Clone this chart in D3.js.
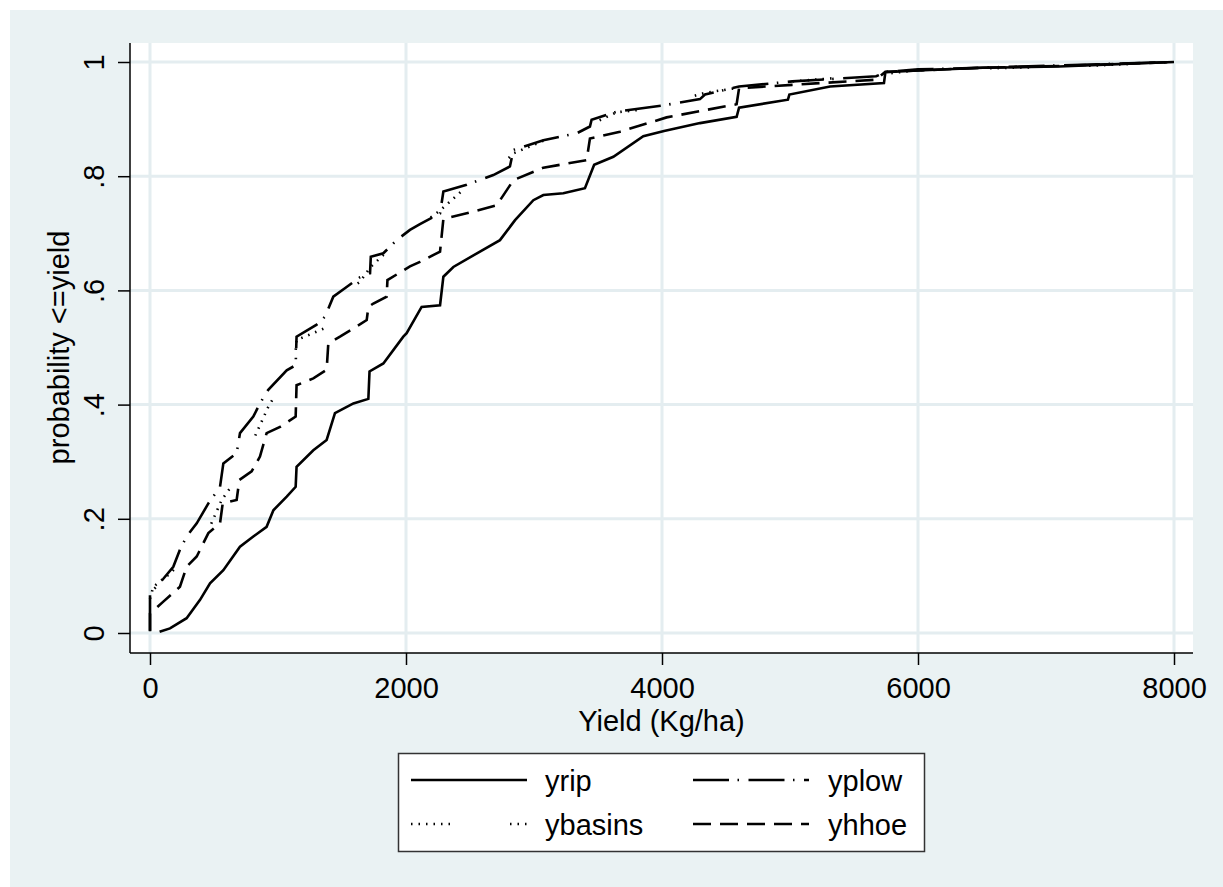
<!DOCTYPE html>
<html>
<head>
<meta charset="utf-8">
<script src="https://cdn.jsdelivr.net/npm/d3@7"></script>
<style>
  body { margin: 0; background: #fff; }
  svg { display: block; font-family: "Liberation Sans", Arial, sans-serif; }
</style>
</head>
<body>
<svg id="chart"></svg>
<script>
// cumulative distribution points: [yield, probability]
var yrip = [[75,0.002],[156,0.008],[286,0.026],[391,0.058],[469,0.087],[573,0.110],[703,0.151],[807,0.169],[911,0.186],[964,0.215],[1068,0.239],[1138,0.256],[1145,0.291],[1276,0.320],[1380,0.338],[1445,0.385],[1589,0.402],[1706,0.410],[1715,0.458],[1823,0.472],[1979,0.519],[2005,0.525],[2122,0.571],[2266,0.574],[2292,0.624],[2370,0.641],[2578,0.668],[2734,0.688],[2852,0.723],[2995,0.758],[3073,0.767],[3229,0.770],[3398,0.779],[3470,0.820],[3620,0.834],[3854,0.870],[4016,0.879],[4297,0.893],[4583,0.904],[4602,0.920],[4984,0.934],[4995,0.943],[5313,0.957],[5734,0.963],[5745,0.982],[6000,0.985],[6508,0.990],[7102,0.992],[7406,0.995],[8000,1.0]];
var yplow = [[0,0.003],[0,0.069],[104,0.095],[182,0.116],[234,0.146],[286,0.169],[365,0.192],[456,0.227],[547,0.256],[573,0.297],[677,0.315],[703,0.350],[807,0.379],[859,0.402],[924,0.426],[1068,0.460],[1138,0.469],[1145,0.519],[1302,0.540],[1367,0.554],[1432,0.589],[1536,0.606],[1641,0.623],[1719,0.630],[1725,0.659],[1823,0.665],[1927,0.688],[2031,0.706],[2109,0.716],[2266,0.735],[2292,0.773],[2474,0.785],[2682,0.802],[2812,0.817],[2839,0.846],[3073,0.863],[3333,0.875],[3437,0.887],[3450,0.899],[3646,0.913],[4010,0.924],[4297,0.935],[4336,0.943],[4602,0.957],[5018,0.966],[5673,0.975],[5760,0.983],[6000,0.987],[6800,0.992],[7400,0.996],[8000,1.0]];
var ybasins = [[0,0.060],[26,0.081],[156,0.104],[234,0.122],[326,0.140],[456,0.180],[560,0.233],[690,0.274],[807,0.338],[924,0.396],[1016,0.431],[1120,0.446],[1145,0.513],[1367,0.534],[1406,0.548],[1450,0.585],[1641,0.615],[1719,0.640],[1823,0.662],[2031,0.700],[2266,0.740],[2357,0.758],[2474,0.782],[2682,0.805],[2839,0.840],[3073,0.862],[3437,0.890],[3646,0.912],[3900,0.918],[4336,0.946],[4602,0.955],[5018,0.966],[5700,0.978],[6000,0.986],[7300,0.993],[8000,1.0]];
var yhhoe = [[0,0.004],[0,0.034],[104,0.055],[234,0.081],[286,0.116],[365,0.134],[456,0.175],[547,0.192],[568,0.227],[677,0.233],[698,0.268],[794,0.283],[859,0.309],[911,0.350],[1016,0.361],[1138,0.379],[1145,0.434],[1276,0.446],[1380,0.461],[1393,0.507],[1484,0.519],[1693,0.548],[1706,0.571],[1745,0.577],[1849,0.589],[1855,0.618],[2031,0.642],[2109,0.650],[2266,0.668],[2292,0.725],[2474,0.735],[2708,0.749],[2839,0.793],[3073,0.815],[3411,0.828],[3437,0.866],[3672,0.878],[4036,0.903],[4583,0.926],[4602,0.954],[5018,0.960],[5673,0.969],[5745,0.983],[6000,0.985],[6500,0.990],[7100,0.993],[8000,1.0]];

var xTicks = [0, 2000, 4000, 6000, 8000];
var yTicks = [0, 0.2, 0.4, 0.6, 0.8, 1];
var yTickLabels = ['0', '.2', '.4', '.6', '.8', '1'];

var W = 1223, H = 887;
var FONT = 29;
var BG = '#eaf2f3';
var GRID = '#e4edf0';
var LW = 2.6;

var series = [
  { name: 'yrip', data: yrip, dash: null },
  { name: 'ybasins', data: ybasins, dash: '1.5,6,1.5,6,1.5,6,1.5,6,1.5,6,1.5,60' },
  { name: 'yplow', data: yplow, dash: '36,8.5,1.5,9.5' },
  { name: 'yhhoe', data: yhhoe, dash: '18,9' }
];

var svg = d3.select('#chart').attr('width', W).attr('height', H);

svg.append('rect').attr('x', 10).attr('y', 10).attr('width', W - 10).attr('height', H - 10).attr('fill', BG);

// plot region
var plot = { left: 130, right: 1193, top: 43, bottom: 653 };
var x = d3.scaleLinear().domain([0, 8000]).range([150, 1174]);
var y = d3.scaleLinear().domain([0, 1]).range([633, 62]);

svg.append('rect')
  .attr('x', plot.left).attr('y', plot.top)
  .attr('width', plot.right - plot.left).attr('height', plot.bottom - plot.top)
  .attr('fill', '#fff');

// grid
var grid = svg.append('g');
grid.selectAll('.gx').data(xTicks).enter().append('line')
  .attr('x1', function (d) { return x(d); }).attr('x2', function (d) { return x(d); })
  .attr('y1', plot.top).attr('y2', plot.bottom)
  .attr('stroke', GRID).attr('stroke-width', 3);
grid.selectAll('.gy').data(yTicks).enter().append('line')
  .attr('x1', plot.left).attr('x2', plot.right)
  .attr('y1', function (d) { return y(d); }).attr('y2', function (d) { return y(d); })
  .attr('stroke', GRID).attr('stroke-width', 3);

// axes
var xAxis = d3.axisBottom(x).tickValues(xTicks).tickSize(12).tickPadding(12).tickFormat(d3.format('d'));
var gx = svg.append('g').attr('transform', 'translate(0,' + plot.bottom + ')').call(xAxis);
gx.select('.domain').attr('d', 'M' + plot.left + ',0H' + plot.right);

var yAxis = d3.axisLeft(y).tickValues(yTicks).tickSize(12).tickFormat(function (d, i) { return yTickLabels[i]; });
var gy = svg.append('g').attr('transform', 'translate(' + plot.left + ',0)').call(yAxis);
gy.select('.domain').attr('d', 'M0,' + plot.top + 'V' + plot.bottom);
gy.selectAll('.tick text')
  .attr('x', null).attr('dy', null)
  .attr('text-anchor', 'middle')
  .attr('transform', 'translate(-26,0) rotate(-90)');

[gx, gy].forEach(function (g) {
  g.selectAll('.domain').attr('stroke', '#000').attr('stroke-width', 1.5);
  g.selectAll('.tick line').attr('stroke', '#000').attr('stroke-width', 1.5);
  g.selectAll('.tick text').attr('font-size', FONT).attr('fill', '#000')
    .attr('font-family', '"Liberation Sans", Arial, sans-serif');
});
gx.selectAll('.tick text').attr('dy', '0.71em');

svg.append('text')
  .attr('x', (plot.left + plot.right) / 2).attr('y', 731)
  .attr('text-anchor', 'middle').attr('font-size', FONT)
  .text('Yield (Kg/ha)');

svg.append('text')
  .attr('transform', 'translate(69,' + ((y(0) + y(1)) / 2) + ') rotate(-90)')
  .attr('text-anchor', 'middle').attr('font-size', FONT)
  .text('probability <=yield');

// curves
var line = d3.line()
  .x(function (d) { return x(d[0]); })
  .y(function (d) { return y(d[1]); });

svg.append('g').selectAll('path').data(series).enter().append('path')
  .attr('d', function (d) { return line(d.data); })
  .attr('fill', 'none')
  .attr('stroke', '#000')
  .attr('stroke-width', LW)
  .attr('stroke-linejoin', 'miter')
  .attr('stroke-dasharray', function (d) { return d.dash; });

// legend
var legend = svg.append('g');
legend.append('rect')
  .attr('x', 398.5).attr('y', 753.5).attr('width', 526).attr('height', 98)
  .attr('fill', '#fff').attr('stroke', '#333').attr('stroke-width', 1.5);

var legendOrder = ['yrip', 'yplow', 'ybasins', 'yhhoe'];
var items = legend.selectAll('.item').data(legendOrder.map(function (n) {
  return series.filter(function (s) { return s.name == n; })[0];
})).enter().append('g')
  .attr('transform', function (d, i) {
    var col = i % 2, row = Math.floor(i / 2);
    return 'translate(' + (col ? 693 : 411) + ',' + (row ? 824 : 780) + ')';
  });
items.append('line')
  .attr('x1', 0).attr('x2', 116).attr('y1', 0).attr('y2', 0)
  .attr('stroke', '#000').attr('stroke-width', LW)
  .attr('stroke-dasharray', function (d) { return d.dash; });
items.append('text')
  .attr('x', function (d, i) { return i % 2 ? 135 : 134; })
  .attr('y', 11)
  .attr('font-size', FONT)
  .text(function (d) { return d.name; });
</script>
</body>
</html>
